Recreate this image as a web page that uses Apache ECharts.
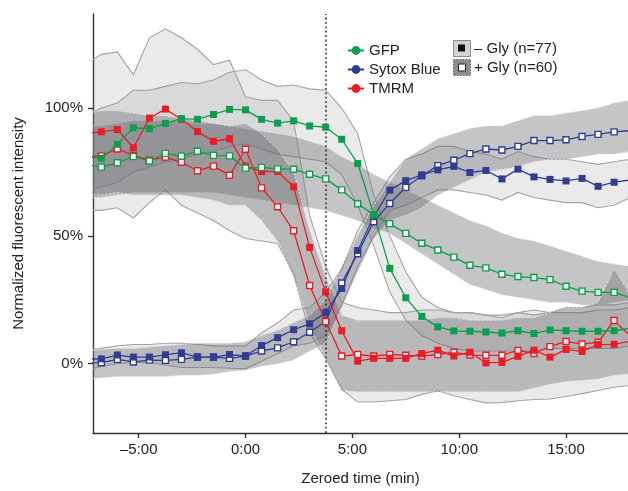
<!DOCTYPE html>
<html>
<head>
<meta charset="utf-8">
<script src="https://cdn.jsdelivr.net/npm/echarts@6/dist/echarts.min.js"></script>
<style>
  html, body { margin: 0; padding: 0; background: #fff; }
  #chart { width: 628px; height: 491px; }
</style>
</head>
<body>
<div id="chart"></div>
<script>
// Sampling times (min, zeroed), one frame every 45 s
const times = [-7.5,-6.75,-6,-5.25,-4.5,-3.75,-3,-2.25,-1.5,-0.75,0,0.75,1.5,2.25,3,3.75,4.5,5.25,6,6.75,7.5,8.25,9,9.75,10.5,11.25,12,12.75,13.5,14.25,15,15.75,16.5,17.25,18];

// Mean normalized intensity (%), – Gly (filled markers)
const gfpMinus   = [81,80.4,85.8,92.3,91.9,94.0,95.9,95.6,97.5,99.5,99.3,95.6,94.1,95.0,93.0,92.5,87.8,78.3,58.4,37.3,25.8,18.5,14.4,12.8,12.7,12.4,12.0,12.9,11.8,13.2,12.9,12.7,12.7,12.9,13.8];
const sytoxMinus = [1.8,1.9,3.4,2.6,2.6,3.5,4.3,2.6,2.6,3.6,3.0,7.1,10.2,13.3,15.6,20.0,29.4,44.3,57.5,67.9,71.6,73.9,75.8,77.2,74.8,75.6,72.3,76.1,73.1,72.1,71.5,72.5,69.4,71.0,71.9];
const tmrmMinus  = [90,90.7,91.6,84.5,96.1,99.6,95.6,90.8,87.0,88.0,77.3,75.2,75.2,69.2,45.5,28.1,12.9,1.0,2.1,2.1,2.1,4.0,5.3,3.0,4.5,0.3,0.5,2.9,5.3,2.6,5.6,4.8,7.5,7.6,8.8];

// Mean normalized intensity (%), + Gly (open markers)
const gfpPlus    = [78,76.9,78.6,81.0,79.3,82.3,81.2,83.1,81.5,81.3,76.5,76.8,76.2,76.1,74.1,72.3,68.0,62.6,58.3,54.8,51.0,47.1,44.5,41.7,38.5,37.5,35.0,34.1,33.7,32.9,30.3,28.4,27.9,27.9,25.8];
const sytoxPlus  = [0.3,0.4,1.7,0.7,1.4,1.3,1.7,2.6,2.6,2.1,3.0,5.0,6.2,8.6,12.3,16.5,31.6,43.0,55.6,62.7,69.0,73.5,77.5,79.6,82.2,84.0,83.6,85.0,87.3,87.3,87.6,88.9,89.7,90.7,91.2];
const tmrmPlus   = [81,81.3,84.0,81.5,79.6,80.8,78.8,75.5,77.3,73.7,83.9,68.8,61.4,52.0,30.6,16.5,3.0,3.6,3.0,3.6,3.3,3.0,3.6,4.5,3.4,3.3,3.3,5.2,4.0,6.7,8.7,7.7,8.4,16.9,10.9];

// Spread bands (%), – Gly
const gfpMinusLo   = [68,69,71,75,77,79,80,82,83,85,86,84,82,81,80,79,74,62,46,28,17,11,8,6,5,5,5,5,5,6,6,6,6,6,7];
const gfpMinusHi   = [97,100,102,107,107,108.5,110,109.5,111,114,115,111,108.5,109,107.5,107,100,90,66,50,36,26,22,20,20,19,19,20,19,20,20,20,21,21,22];
const sytoxMinusLo = [-3,-1,0,0.5,0.5,-0.5,-1.5,-1.5,-1.5,-1.8,-2,1,4,7,8,11,23,38,50,60,62,65,68,68,67,66,64,67,65,64,63,63,61,62,65];
const sytoxMinusHi = [5,6,7,7.5,7.5,8,8,7.5,7,7,7,12,16,21,22,28,37,52,63,73,80,82,85,85,83,82,80,83,81,80,80,79,78,79,80];
const tmrmMinusLo  = [60,60,61,57,63,68,62,59,56,52,49,48,47,35,12,2,-10,-15,-15,-14.5,-14,-12,-10.6,-12.5,-14,-15.3,-15.2,-14.5,-14,-13.8,-12.8,-11.7,-10.5,-9.2,-8.5];
const tmrmMinusHi  = [117,121,122,113,127.5,131,127.5,123,117,118.7,104.4,103,103,95,58,38,24,22,21,20,20,21,21,20,20,19,18,20,21,20,22,22,23,23,24];

// Spread bands (%), + Gly
const gfpPlusLo    = [65,65,66,67,67,67,67,67,67,66,65,64,63,62,61,60,58,56,53,51,47,43,39,35,31,29,27,26,25,24,24,23,23,24,25];
const gfpPlusHi    = [93,93,94,95,95,95,95,94,94,93,92,91,90,89,87,85,81,78,74,71,68,65,62,59,56,54,51,49,48,46,44,42,40,39,38];
const sytoxPlusLo  = [-6,-5.5,-5,-5,-5,-5,-4.5,-4.5,-4,-3,-2.5,-1,0,1.5,5,8,22,36,49,56,58,61,66,69,72,75,76,77,79,80,80,81,82,82,83];
const sytoxPlusHi  = [5,5.5,6,6,6.5,7,7.5,8,8,8,8.5,11,13,16,19,25,38,50,62,71,80,84,88,90,92,93,93,95,97,97,98,99,100,102,103];
const tmrmPlusLo   = [66,66,67,66,66,66,66,65,64,62,62,56,48,34,15,2,-10.5,-11,-11,-11,-11,-11,-11,-11,-11,-11,-11,-11,-9.5,-8,-7,-6.5,-6,-4.5,-4];
const tmrmPlusHi   = [98,99,99,98,97,97,96,95,94,93,94,90,84,75,52,34,19,17,17,17,17,17,18,18,17,17,17,18,18,20,22,22,24,37,27];

// Axis ticks
const xTicks = [-5, 0, 5, 10, 15];
const yTicks = [0, 50, 100];
const treatmentTime = 3.75;

const channelNames = ['GFP', 'Sytox Blue', 'TMRM'];
const glyLabels = ['\u2013 Gly (n=77)', '+ Gly (n=60)'];

const GREEN = '#0c9f4b';
const BLUE = '#2e3d96';
const RED = '#ec1c24';
const FONT = '"Liberation Sans", Arial, Helvetica, sans-serif';

function pairs(vals) {
  return times.map((t, i) => [t, vals[i]]);
}

// Shaded spread band: filled polygon between lo and hi, with its two edges
function band(key, lo, hi, plus) {
  const edge = plus
    ? { stroke: 'rgba(222,222,225,0.95)', lineWidth: 1, lineDash: [2, 2], fill: null }
    : { stroke: '#a4a4a7', lineWidth: 1.1, fill: null };
  const fill = plus ? 'rgba(110,110,116,0.40)' : 'rgba(130,130,136,0.17)';
  return {
    type: 'custom', name: key, data: [[times[0], lo[0]]], clip: true, silent: true, z: 1,
    renderItem: function (params, api) {
      const up = times.map((t, i) => api.coord([t, hi[i]]));
      const dn = times.map((t, i) => api.coord([t, lo[i]]));
      return {
        type: 'group',
        children: [
          { type: 'polygon', shape: { points: up.concat(dn.slice().reverse()) }, style: { fill: fill } },
          { type: 'polyline', shape: { points: up }, style: edge },
          { type: 'polyline', shape: { points: dn }, style: edge }
        ]
      };
    }
  };
}

function trace(name, vals, color, open) {
  return {
    type: 'line', name: name, data: pairs(vals), z: 10,
    symbol: 'rect', symbolSize: open ? 6 : 7,
    itemStyle: open ? { color: '#fff', borderColor: color, borderWidth: 1.4 } : { color: color },
    lineStyle: { color: color, width: 1.3 },
    emphasis: { disabled: true }, silent: true
  };
}

function legendDummy(name, color) {
  return {
    type: 'line', name: name, data: [], symbol: 'circle',
    itemStyle: { color: color }, lineStyle: { color: color, width: 2 }
  };
}

const series = [
  band('gfpMinusBand', gfpMinusLo, gfpMinusHi, false),
  band('tmrmMinusBand', tmrmMinusLo, tmrmMinusHi, false),
  band('sytoxMinusBand', sytoxMinusLo, sytoxMinusHi, false),
  band('gfpPlusBand', gfpPlusLo, gfpPlusHi, true),
  band('tmrmPlusBand', tmrmPlusLo, tmrmPlusHi, true),
  band('sytoxPlusBand', sytoxPlusLo, sytoxPlusHi, true),
  trace('Sytox + Gly', sytoxPlus, BLUE, true),
  trace('Sytox \u2013 Gly', sytoxMinus, BLUE, false),
  trace('TMRM + Gly', tmrmPlus, RED, true),
  trace('TMRM \u2013 Gly', tmrmMinus, RED, false),
  trace('GFP + Gly', gfpPlus, GREEN, true),
  trace('GFP \u2013 Gly', gfpMinus, GREEN, false),
  legendDummy(channelNames[0], GREEN),
  legendDummy(channelNames[1], BLUE),
  legendDummy(channelNames[2], RED)
];

// Dotted marker at the treatment time
series[6].markLine = {
  silent: true, symbol: ['none', 'none'], z: 5,
  label: { show: false },
  lineStyle: { color: '#333', width: 1.6, type: [1.8, 2.6] },
  data: [{ xAxis: treatmentTime }]
};

const axisColor = '#333';
const textColor = '#222';

const option = {
  animation: false,
  textStyle: { fontFamily: FONT },
  grid: { left: 93, right: 0, top: 14, bottom: 53.3, containLabel: false },
  xAxis: {
    type: 'value', min: -7.14, max: 17.9,
    axisLine: { show: true, onZero: false, lineStyle: { color: axisColor, width: 1.4 } },
    axisTick: { show: true, customValues: xTicks, length: 5, lineStyle: { color: axisColor, width: 1.4 } },
    axisLabel: {
      customValues: xTicks, fontSize: 15, color: textColor, margin: 9, fontFamily: FONT,
      formatter: v => (v < 0 ? '\u2013' + Math.abs(v) : String(v)) + ':00'
    },
    splitLine: { show: false },
    name: 'Zeroed time (min)', nameLocation: 'middle', nameGap: 38,
    nameTextStyle: { fontSize: 15, color: textColor, fontFamily: FONT }
  },
  yAxis: {
    type: 'value', min: -27.1, max: 136.8,
    axisLine: { show: true, onZero: false, lineStyle: { color: axisColor, width: 1.4 } },
    axisTick: { show: true, customValues: yTicks, length: 5, lineStyle: { color: axisColor, width: 1.4 } },
    axisLabel: {
      customValues: yTicks, fontSize: 15, color: textColor, margin: 10, fontFamily: FONT,
      formatter: v => v + '%'
    },
    splitLine: { show: false },
    name: 'Normalized fluorescent intensity', nameLocation: 'middle', nameGap: 67,
    nameTextStyle: { fontSize: 15, color: textColor, fontFamily: FONT }
  },
  legend: {
    data: channelNames, orient: 'vertical', left: 342, top: 38,
    itemWidth: 16, itemHeight: 11, itemGap: 4, selectedMode: false,
    textStyle: { fontSize: 15, color: textColor, fontFamily: FONT }
  },
  graphic: [
    { type: 'rect', left: 453, top: 40, shape: { width: 17, height: 16 },
      style: { fill: '#d2d2d4', stroke: '#8c8c8c', lineWidth: 1 } },
    { type: 'rect', left: 458, top: 44.5, shape: { width: 7, height: 7 },
      style: { fill: '#111' } },
    { type: 'text', left: 474, top: 41, style: { text: glyLabels[0], fontSize: 15, fill: textColor, fontFamily: FONT } },
    { type: 'rect', left: 453, top: 59, shape: { width: 17, height: 16 },
      style: { fill: '#8e8e91', stroke: '#5e5e5e', lineWidth: 1, lineDash: [1.5, 1.5] } },
    { type: 'rect', left: 458, top: 63.5, shape: { width: 7, height: 7 },
      style: { fill: '#fff', stroke: '#222', lineWidth: 1 } },
    { type: 'text', left: 474, top: 60, style: { text: glyLabels[1], fontSize: 15, fill: textColor, fontFamily: FONT } }
  ],
  series: series
};

const chart = echarts.init(document.getElementById('chart'), null, { renderer: 'canvas' });
chart.setOption(option);
</script>
</body>
</html>
